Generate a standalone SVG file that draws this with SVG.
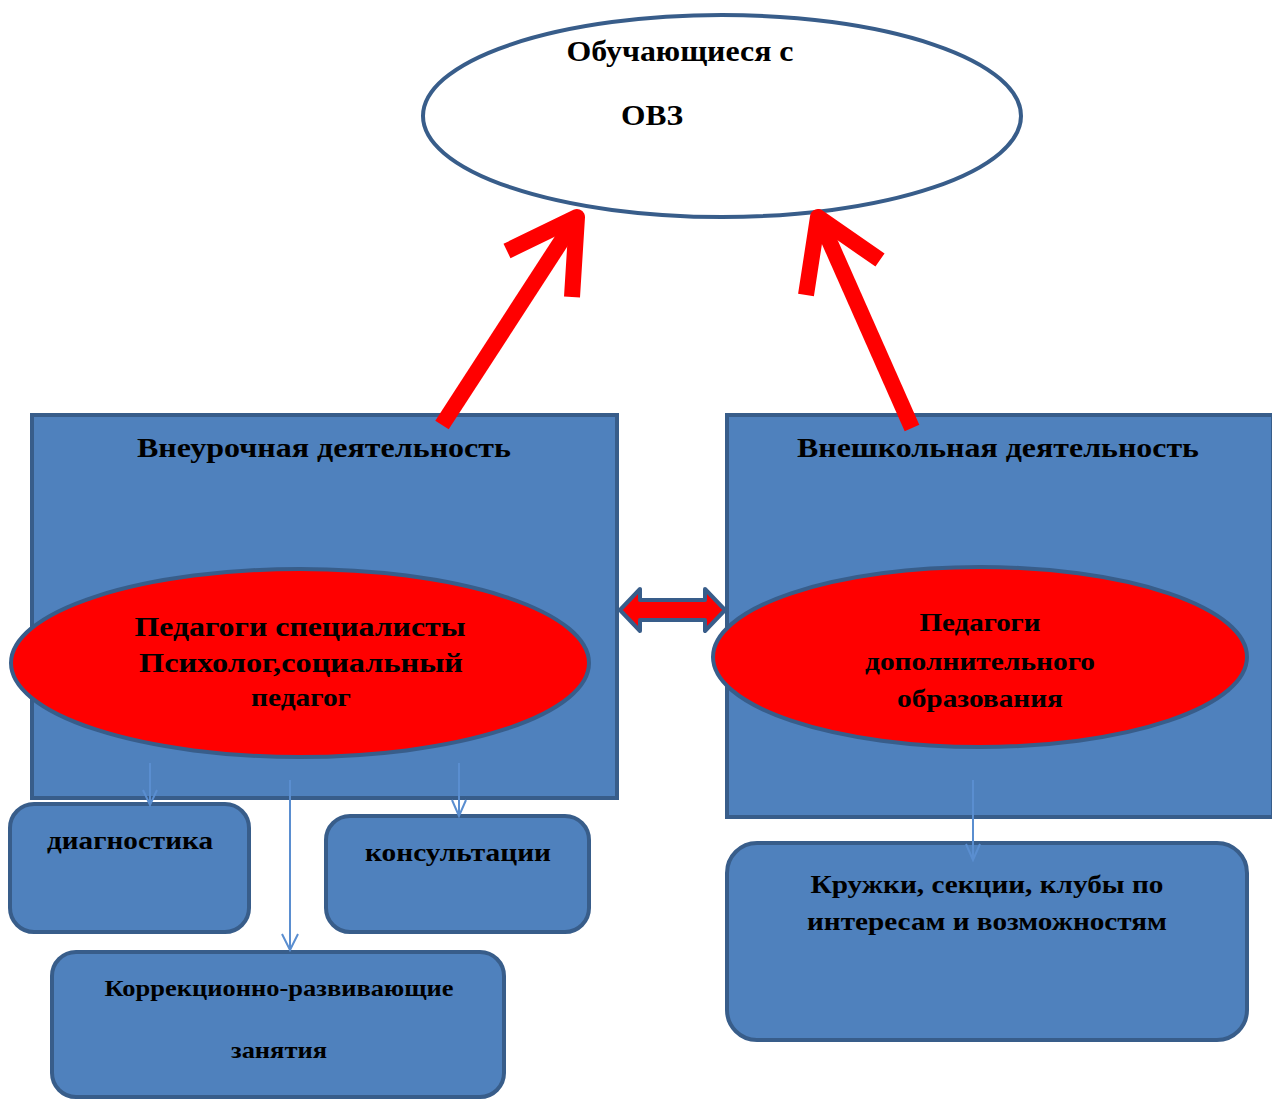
<svg xmlns="http://www.w3.org/2000/svg" width="1272" height="1099" viewBox="0 0 1272 1099">
<style>
.box{fill:#4f81bd;stroke:#385d8a;stroke-width:4}
.red{fill:#ff0000;stroke:#385d8a;stroke-width:4}
.t{font-family:"Liberation Serif","Times New Roman",serif;font-weight:bold;fill:#000;text-anchor:middle}
.big{stroke:#ff0000;stroke-width:16;fill:none}
.thin{stroke:#5a8ed0;stroke-width:2;fill:none}
</style>
<g id="top">
<ellipse cx="722" cy="116" rx="299" ry="101" fill="#fff" stroke="#385d8a" stroke-width="4"/>
<text class="t" x="680" y="61" font-size="29" textLength="227" lengthAdjust="spacingAndGlyphs">Обучающиеся с</text>
<text class="t" x="652" y="125" font-size="29" textLength="62" lengthAdjust="spacingAndGlyphs">ОВЗ</text>
</g>
<g id="left">
<rect class="box" x="32" y="415" width="585" height="383"/>
<text class="t" x="324" y="457" font-size="28" textLength="374" lengthAdjust="spacingAndGlyphs">Внеурочная деятельность</text>
</g>
<g id="right">
<rect class="box" x="727" y="415" width="546" height="402"/>
<text class="t" x="998" y="457" font-size="28" textLength="402" lengthAdjust="spacingAndGlyphs">Внешкольная деятельность</text>
</g>
<g id="leftEll">
<ellipse class="red" cx="300" cy="663" rx="289" ry="94"/>
<text class="t" x="300" y="636" font-size="27" textLength="331" lengthAdjust="spacingAndGlyphs">Педагоги специалисты</text>
<text class="t" x="301" y="672" font-size="27" textLength="324" lengthAdjust="spacingAndGlyphs">Психолог,социальный</text>
<text class="t" x="301" y="706" font-size="25" textLength="100" lengthAdjust="spacingAndGlyphs">педагог</text>
</g>
<g id="rightEll">
<ellipse class="red" cx="980" cy="657" rx="267" ry="90"/>
<text class="t" x="980" y="631" font-size="26" textLength="121" lengthAdjust="spacingAndGlyphs">Педагоги</text>
<text class="t" x="980" y="670" font-size="25" textLength="230" lengthAdjust="spacingAndGlyphs">дополнительного</text>
<text class="t" x="980" y="707" font-size="25" textLength="166" lengthAdjust="spacingAndGlyphs">образования</text>
</g>
<g id="diag">
<rect class="box" x="10" y="804" width="239" height="128" rx="24"/>
<text class="t" x="130" y="849" font-size="25" textLength="166" lengthAdjust="spacingAndGlyphs">диагностика</text>
</g>
<g id="kons">
<rect class="box" x="326" y="816" width="263" height="116" rx="24"/>
<text class="t" x="458" y="861" font-size="25" textLength="186" lengthAdjust="spacingAndGlyphs">консультации</text>
</g>
<g id="korr">
<rect class="box" x="52" y="952" width="452" height="145" rx="24"/>
<text class="t" x="279" y="996" font-size="24" textLength="349" lengthAdjust="spacingAndGlyphs">Коррекционно-развивающие</text>
<text class="t" x="279" y="1058" font-size="24" textLength="96" lengthAdjust="spacingAndGlyphs">занятия</text>
</g>
<g id="kruzh">
<rect class="box" x="727" y="843" width="520" height="197" rx="30"/>
<text class="t" x="987" y="893" font-size="26" textLength="353" lengthAdjust="spacingAndGlyphs">Кружки, секции, клубы по</text>
<text class="t" x="987" y="930" font-size="26" textLength="360" lengthAdjust="spacingAndGlyphs">интересам и возможностям</text>
</g>
<g id="connectors">
<line class="big" x1="442" y1="425" x2="575" y2="220"/>
<polyline class="big" points="507,251 577,217 572,297" stroke-linejoin="round"/>
<line class="big" x1="912" y1="428" x2="820" y2="220"/>
<polyline class="big" points="806,295 818,217 880,260" stroke-linejoin="round"/>
<path d="M620,610 L640,589 L640,600 L705,600 L705,589 L725,610 L705,631 L705,620 L640,620 L640,631 Z" fill="#ff0000" stroke="#385d8a" stroke-width="4" stroke-linejoin="round"/>
<line class="thin" x1="150" y1="763" x2="150" y2="805"/>
<polyline class="thin" points="143,790 150,805 157,790"/>
<line class="thin" x1="290" y1="780" x2="290" y2="950"/>
<polyline class="thin" points="282,934 290,950 298,934"/>
<line class="thin" x1="459" y1="763" x2="459" y2="816"/>
<polyline class="thin" points="452,800 459,816 466,800"/>
<line class="thin" x1="973" y1="780" x2="973" y2="860"/>
<polyline class="thin" points="966,844 973,860 980,844"/>
</g>
</svg>
